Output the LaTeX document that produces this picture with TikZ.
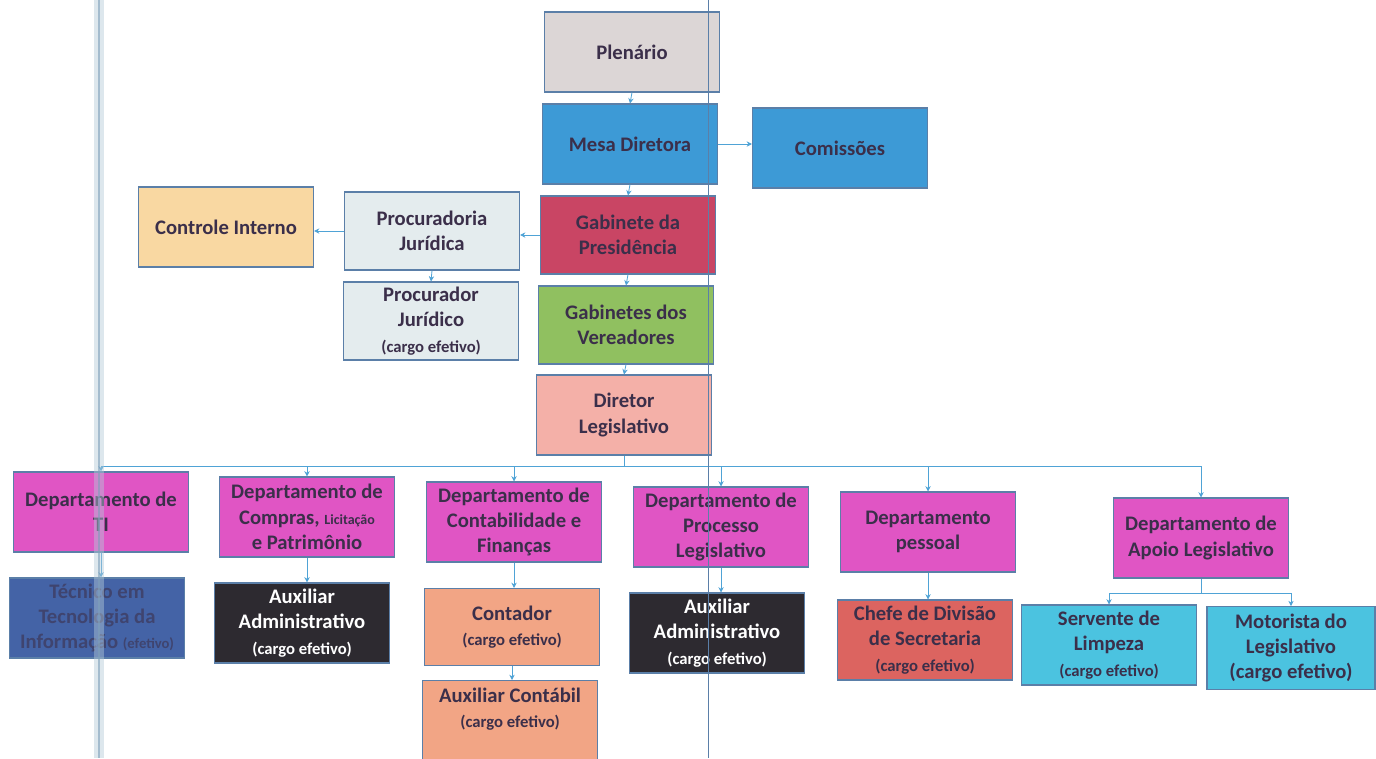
\documentclass[tikz,border=0pt]{standalone}
\usepackage{fontspec}
\setmainfont{Carlito}
\usetikzlibrary{arrows.meta,positioning}
\definecolor{bordc}{HTML}{5B7FA8}
\definecolor{arrc}{HTML}{4FA3D6}
\definecolor{txtc}{HTML}{3B2F4A}
\definecolor{cplen}{HTML}{DCD6D6}
\definecolor{cmesa}{HTML}{3D9AD6}
\definecolor{cgab}{HTML}{C94564}
\definecolor{cproc}{HTML}{E4ECEE}
\definecolor{cctrl}{HTML}{F9D8A2}
\definecolor{cgreen}{HTML}{90C060}
\definecolor{cdir}{HTML}{F4B0A8}
\definecolor{cdept}{HTML}{E055C4}
\definecolor{ctec}{HTML}{4463A6}
\definecolor{cdark}{HTML}{2D2A30}
\definecolor{ccont}{HTML}{F2A585}
\definecolor{cchef}{HTML}{DC6460}
\definecolor{ccyan}{HTML}{4BC3E0}
\definecolor{cband}{HTML}{B5CAD8}
\definecolor{cbandc}{HTML}{7FA0BA}
\newcommand{\cargo}{\fontsize{12.5}{15}\selectfont}
\begin{document}
\begin{tikzpicture}[x=0.75pt,y=-0.75pt,
  orgbox/.style={draw=bordc,line width=0.8pt,minimum width=131.25pt,minimum height=60pt,
    align=center,inner sep=2pt,text=txtc,font=\bfseries\fontsize{15.5}{19}\selectfont},
  conn/.style={draw=arrc,line width=0.6pt},
  arr/.style={draw=arrc,line width=0.6pt,-{Stealth[length=4pt,width=4pt]}}]
\useasboundingbox (0,0) rectangle (1376,758);
\fill[white] (0,0) rectangle (1376,758);
% top chain
\node[orgbox,fill=cplen] (pl) at (632,52) {Plenário};
\node[orgbox,fill=cmesa] (md) at (630,144) {Mesa Diretora};
\node[orgbox,fill=cmesa] (co) at (840,148) {Comissões};
\node[orgbox,fill=cgab,minimum height=58.5pt] (gp) at (628,235) {Gabinete da\\Presidência};
\node[orgbox,fill=cproc,minimum height=58.5pt] (pj) at (432,231) {Procuradoria\\Jurídica};
\node[orgbox,fill=cctrl] (ci) at (226,227) {Controle Interno};
\node[orgbox,fill=cproc,minimum height=58.5pt] (pr) at (431,321) {Procurador\\Jurídico\\{\cargo (cargo efetivo)}};
\node[orgbox,fill=cgreen,minimum height=58.5pt] (gv) at (626,325) {Gabinetes dos\\Vereadores};
\node[orgbox,fill=cdir] (dl) at (624,415) {Diretor\\Legislativo};
% departments
\node[orgbox,fill=cdept] (d1) at (101,512) {Departamento de\\TI};
\node[orgbox,fill=cdept] (d2) at (307,517) {Departamento de\\Compras, {\fontsize{10.5}{13}\selectfont Licitação}\\e Patrimônio};
\node[orgbox,fill=cdept] (d3) at (514,522) {Departamento de\\Contabilidade e\\Finanças};
\node[orgbox,fill=cdept] (d4) at (721,527) {Departamento de\\Processo\\Legislativo};
\node[orgbox,fill=cdept] (d5) at (928,532) {Departamento\\pessoal};
\node[orgbox,fill=cdept] (d6) at (1201,538) {Departamento de\\Apoio Legislativo};
% second row
\node[orgbox,fill=ctec,text=txtc!60!ctec] (r1) at (97,618) {Técnico em\\Tecnologia da\\Informação {\fontsize{11}{13}\selectfont (efetivo)}};
\node[orgbox,fill=cdark,text=white] (r2) at (302,623) {Auxiliar\\Administrativo\\{\cargo (cargo efetivo)}};
\node[orgbox,fill=ccont,minimum height=57.75pt] (r3) at (512,627) {Contador\\{\cargo (cargo efetivo)}};
\node[orgbox,fill=cdark,text=white] (r4) at (717,633) {Auxiliar\\Administrativo\\{\cargo (cargo efetivo)}};
\node[orgbox,fill=cchef] (r5) at (925,640) {Chefe de Divisão\\de Secretaria\\{\cargo (cargo efetivo)}};
\node[orgbox,fill=ccyan] (r6) at (1109,645) {Servente de\\Limpeza\\{\cargo (cargo efetivo)}};
\node[orgbox,fill=ccyan,minimum width=126pt,minimum height=62pt] (r7) at (1291,648) {Motorista do\\Legislativo\\{\fontsize{15.5}{19}\selectfont (cargo efetivo)}};
\node[orgbox,fill=ccont,minimum height=63pt,anchor=north] (r8) at (510,680) {Auxiliar Contábil\\{\cargo (cargo efetivo)}\\[3pt]};
% connectors top
\draw[arr] (pl.south) -- (md.north);
\draw[arr] (md.east) -- (md.east -| co.west);
\draw[arr] (md.south) -- (gp.north);
\draw[arr] (gp.west) -- (gp.west -| pj.east);
\draw[arr] (pj.west) -- (pj.west -| ci.east);
\draw[arr] (pj.south) -- (pr.north);
\draw[arr] (gp.south) -- (gv.north);
\draw[arr] (gv.south) -- (dl.north);
% bus to departments
\coordinate (busy) at (0,466);
\draw[conn] (dl.south) -- (dl.south |- busy);
\draw[conn] (d1.north |- busy) -- (d6.north |- busy);
\foreach \d in {d1,d2,d3,d4,d5,d6}{\draw[arr] (\d.north |- busy) -- (\d.north);}
% second row
\draw[arr] (d1.south) -- (d1.south |- r1.north);
\draw[arr] (d2.south) -- (d2.south |- r2.north);
\draw[arr] (d3.south) -- (d3.south |- r3.north);
\draw[arr] (r3.south) -- (r3.south |- r8.north);
\draw[arr] (d4.south) -- (d4.south |- r4.north);
\draw[arr] (d5.south) -- (d5.south |- r5.north);
\coordinate (bus2) at (0,593);
\draw[conn] (d6.south) -- (d6.south |- bus2);
\draw[conn] (r6.north |- bus2) -- (r7.north |- bus2);
\draw[arr] (r6.north |- bus2) -- (r6.north);
\draw[arr] (r7.north |- bus2) -- (r7.north);
% scan artifacts
\fill[cband,opacity=0.45] (94,0) rectangle (104,758);
\draw[cbandc,line width=1.2pt,opacity=0.6] (99,0) -- (99,758);
\draw[bordc,line width=0.6pt] (708,0) -- (708,758);
\end{tikzpicture}
\end{document}
